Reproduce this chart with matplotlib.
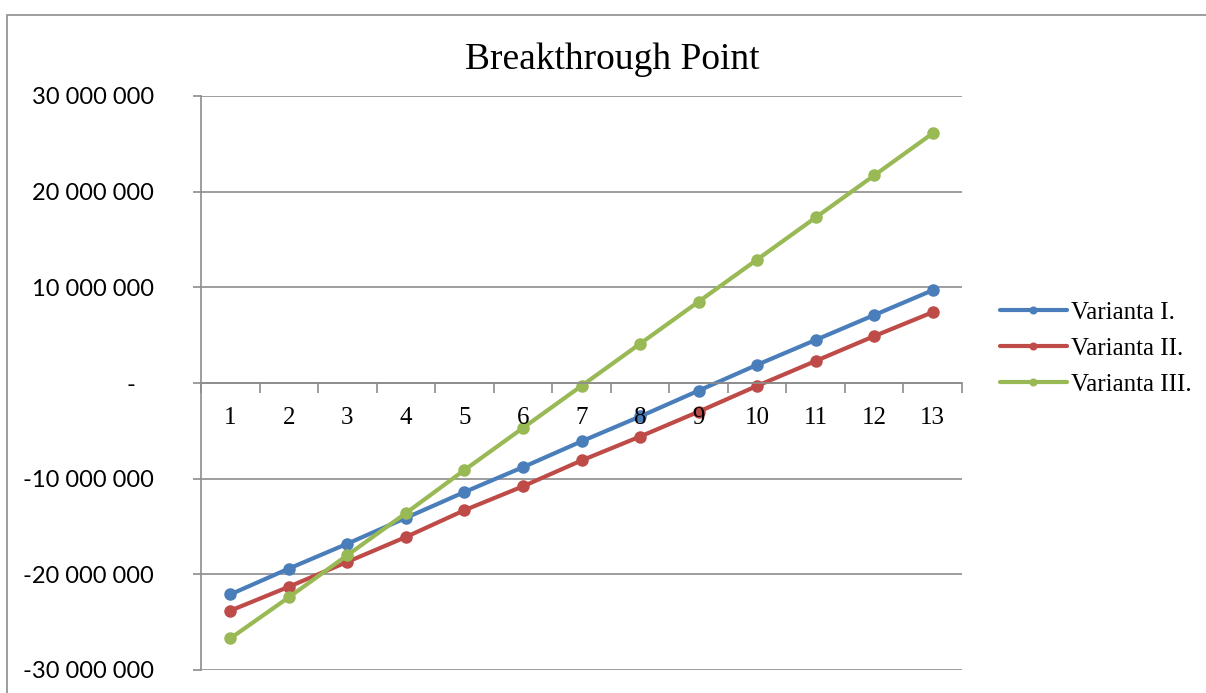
import numpy as np
import matplotlib
matplotlib.use('Agg')
import matplotlib.pyplot as plt
from matplotlib.patches import Rectangle
from matplotlib.ticker import FixedLocator, FuncFormatter

#%% data
periods = list(range(1, 14))
varianta_1 = [-22.1, -19.4, -16.8, -14.1, -11.4, -8.8, -6.1, -3.5, -0.8, 1.9, 4.5, 7.1, 9.7]
varianta_2 = [-23.8, -21.3, -18.7, -16.1, -13.3, -10.8, -8.1, -5.6, -3.0, -0.3, 2.3, 4.9, 7.4]
varianta_3 = [-26.7, -22.4, -18.0, -13.6, -9.1, -4.7, -0.3, 4.1, 8.5, 12.9, 17.3, 21.7, 26.1]
series_names = ['Varianta I.', 'Varianta II.', 'Varianta III.']
colors = ['#4A7EBB', '#BE4B48', '#98B954']
title = 'Breakthrough Point'

#%% figure
serif = 'Liberation Serif'
sans = 'Lato'
fig = plt.figure(figsize=(12.06, 6.93), dpi=100)
fig.patches.append(Rectangle((7/1206, -0.1), 1.2, 1 - 15/693 + 0.1, transform=fig.transFigure,
                             fill=False, edgecolor='#8c8c8c', linewidth=1.2))
ax = fig.add_axes([201/1206, 1 - 670/693, 761/1206, 574/693])

x = np.arange(len(periods))
for vals, name, c in zip([varianta_1, varianta_2, varianta_3], series_names, colors):
    ax.plot(x, np.array(vals) * 1e6, color=c, lw=3, marker='o', ms=8, label=name,
            solid_capstyle='round')

ax.set_xlim(-0.5, len(periods) - 0.5)
ax.set_ylim(-30e6, 30e6)

# y axis: gridlines every 10M, Excel accounting style labels
ax.yaxis.set_major_locator(FixedLocator(np.arange(-30e6, 30e6 + 1, 10e6)))
def fmt(v, pos):
    if abs(v) < 1:
        return '-   '
    return '{:,.0f}'.format(v).replace(',', ' ')
ax.yaxis.set_major_formatter(FuncFormatter(fmt))
ax.grid(axis='y', color='#8c8c8c', lw=1.2)
ax.set_axisbelow(True)
for lab in ax.get_yticklabels():
    lab.set_fontfamily(sans)
    lab.set_fontsize(17)
ax.tick_params(axis='y', length=6, width=1.2, color='#8c8c8c', pad=28)

# x axis sits on zero
ax.spines['bottom'].set_position(('data', 0))
for s in ['top', 'right']:
    ax.spines[s].set_visible(False)
for s in ['left', 'bottom']:
    ax.spines[s].set_color('#8c8c8c')
    ax.spines[s].set_linewidth(1.2)
ax.set_xticks(np.arange(-0.5, len(periods) + 0.5, 1))
ax.set_xticklabels([])
ax.tick_params(axis='x', length=7, width=1.2, color='#8c8c8c')
for i, p in enumerate(periods):
    ax.text(i, -3.7e6, str(p), ha='center', va='center', fontsize=18, fontfamily=serif,
            zorder=3)

fig.text(612/1206, 1 - 60/693, title, ha='center', va='center', fontfamily=serif, fontsize=27)

leg = ax.legend(loc='center left', bbox_to_anchor=(1.02, 0.56), frameon=False,
                prop={'family': serif, 'size': 18}, handlelength=2.7, handletextpad=0.15,
                labelspacing=0.55, markerscale=0.6)

fig.savefig('out.png', dpi=100)
